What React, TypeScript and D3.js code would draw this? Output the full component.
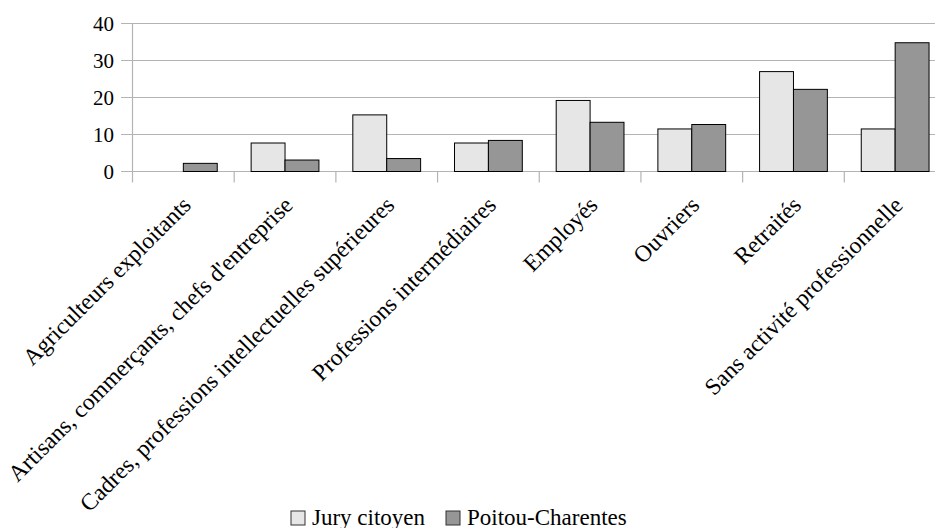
import React from "react";
import * as d3 from "d3";

const categories = [
  "Agriculteurs exploitants",
  "Artisans, commerçants, chefs d'entreprise",
  "Cadres, professions intellectuelles supérieures",
  "Professions intermédiaires",
  "Employés",
  "Ouvriers",
  "Retraités",
  "Sans activité professionnelle",
];
const seriesNames = ["Jury citoyen", "Poitou-Charentes"];
const juryValues = [0, 7.7, 15.3, 7.7, 19.2, 11.5, 27.0, 11.5];
const poitouValues = [2.2, 3.1, 3.5, 8.4, 13.3, 12.7, 22.2, 34.8];
const yTicks = [0, 10, 20, 30, 40];
const seriesColors = ["#e6e6e6", "#969696"];

const W = 935;
const H = 528;
const FONT = "'Liberation Serif', 'DejaVu Serif', serif";

export default function App() {
  const x = d3.scaleBand<string>().domain(categories).range([132.5, 946]).padding(0);
  const bw = x.bandwidth();
  const xs = d3
    .scaleBand<string>()
    .domain(seriesNames)
    .range([bw / 6, (bw * 5) / 6])
    .padding(0);
  const y = d3.scaleLinear().domain([0, 40]).range([171.5, 23.5]);
  const y0 = y(0);
  const values = [juryValues, poitouValues];
  const grid = "#b4b4b4";

  return (
    <div style={{ position: "fixed", left: 0, top: 0, width: W, height: H, background: "#fff" }}>
      <svg width={W} height={H} style={{ display: "block", fontFamily: FONT }}>
        {/* horizontal gridlines with left tick marks */}
        {yTicks.map((t) => (
          <g key={t}>
            <line x1={121} x2={946} y1={y(t)} y2={y(t)} stroke={grid} strokeWidth={1.2} />
            <text x={114} y={y(t)} dy="0.36em" textAnchor="end" fontSize={21} fill="#000">
              {t}
            </text>
          </g>
        ))}
        {/* vertical axis */}
        <line x1={x.range()[0]} x2={x.range()[0]} y1={y(40)} y2={y0 + 11} stroke={grid} strokeWidth={1.2} />
        {/* category ticks */}
        {categories.map((c, i) =>
          i === 0 ? null : (
            <line key={c} x1={x(c)!} x2={x(c)!} y1={y0} y2={y0 + 11} stroke={grid} strokeWidth={1.2} />
          )
        )}
        {/* bars */}
        {categories.map((c) =>
          seriesNames.map((s, si) => {
            const v = values[si][categories.indexOf(c)];
            if (v <= 0) return null;
            const bx = x(c)! + xs(s)!;
            return (
              <rect
                key={c + s}
                x={bx}
                y={y(v)}
                width={xs.bandwidth()}
                height={y0 - y(v)}
                fill={seriesColors[si]}
                stroke="#000"
                strokeWidth={1}
              />
            );
          })
        )}
        {/* rotated category labels */}
        {categories.map((c) => {
          const cx = x(c)! + bw / 2 + 9;
          const cy = y0 + 35;
          return (
            <text
              key={c}
              transform={`translate(${cx},${cy}) rotate(-45)`}
              textAnchor="end"
              fontSize={23.5}
              fill="#000"
            >
              {c}
            </text>
          );
        })}
        {/* legend */}
        {seriesNames.map((s, i) => {
          const lx = i === 0 ? 291 : 446;
          return (
            <g key={s}>
              <rect x={lx} y={511} width={14} height={14} fill={seriesColors[i]} stroke="#333" strokeWidth={1} />
              <text x={lx + 21} y={524.5} fontSize={23} fill="#000">
                {s}
              </text>
            </g>
          );
        })}
      </svg>
    </div>
  );
}
